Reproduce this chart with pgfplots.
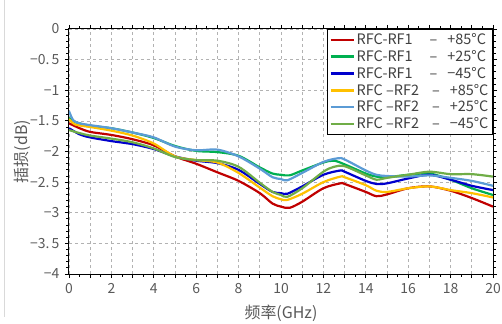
\documentclass[border=0pt]{standalone}
\usepackage{pgfplots}
\pgfplotsset{compat=1.18}
\usepackage{fontspec}
\setmainfont{Noto Sans CJK SC}
\definecolor{cred}{HTML}{C00000}
\definecolor{cgreen}{HTML}{00B050}
\definecolor{cblue}{HTML}{0000CC}
\definecolor{cyellow}{HTML}{FFC000}
\definecolor{clblue}{HTML}{5B9BD5}
\definecolor{colive}{HTML}{70AD47}
\definecolor{tgray}{HTML}{595959}
\definecolor{lgray}{HTML}{404040}
\begin{document}
\begin{tikzpicture}
\begin{axis}[
  at={(0,0)}, anchor=south west,
  width=424bp, height=245bp, scale only axis,
  xmin=0, xmax=20, ymin=-4, ymax=0,
  xtick={0,2,...,20}, xticklabels={0,2,4,6,8,10,12,14,16,18,20},
  extra x ticks={1,3,...,19}, extra x tick labels={},
  extra x tick style={grid=major},
  minor x tick num=3,
  ytick={0,-0.5,...,-4},
  yticklabels={0,−0.\,5,−1,−1.\,5,−2,−2.\,5,−3,−3.\,5,−4},
  minor y tick num=4,
  grid=major,
  major grid style={dashed, color=black!30, line width=0.7bp},
  axis line style={black, line width=1bp},
  tick style={black, line width=0.8bp},
  tick align=outside,
  major tick length=4bp, minor tick length=2.5bp,
  xticklabel style={font=\fontsize{14}{15}\selectfont, text=tgray, yshift=-2bp},
  yticklabel style={font=\fontsize{14}{15}\selectfont, text=tgray, xshift=-2bp},
  xlabel={频率(GHz)}, ylabel={插损(dB)},
  every axis x label/.style={at={(axis description cs:0.5,-0.162)}, anchor=center, font=\fontsize{16}{18}\selectfont, text=tgray},
  every axis y label/.style={at={(axis description cs:-0.111,0.5)}, anchor=center, rotate=90, font=\fontsize{16}{18}\selectfont, text=tgray},
  legend style={at={(1,1)}, anchor=north east, draw=black, line width=1.2bp,
    font=\fontsize{14.5}{15}\selectfont, text=lgray, inner sep=2bp, row sep=0.3bp, fill=white},
  legend cell align=left,
  legend image code/.code={\draw[#1, line width=2.4bp] (0bp,0bp) -- (23bp,0bp);},
  every axis plot/.append style={line width=2.2bp, smooth, tension=0.5},
]
\addplot[color=cred] coordinates {(0,-1.54) (0.5,-1.62) (1,-1.68) (2,-1.73) (3,-1.80) (4,-1.90) (5,-2.08) (6,-2.20) (7,-2.34) (8,-2.48) (9,-2.68) (9.6,-2.85) (10,-2.90) (10.4,-2.92) (11,-2.82) (12,-2.60) (12.8,-2.52) (13,-2.53) (14,-2.66) (14.5,-2.73) (15,-2.70) (16,-2.60) (17,-2.57) (18,-2.64) (19,-2.76) (20,-2.90)};
\addlegendentry{RFC-RF1\hspace{17bp}–\hspace{10bp}+85°C}
\addplot[color=cgreen] coordinates {(0,-1.45) (0.3,-1.52) (1,-1.58) (2,-1.62) (3,-1.69) (4,-1.78) (5,-1.91) (6,-1.99) (7,-2.01) (8,-2.07) (9,-2.26) (9.6,-2.36) (10,-2.38) (10.4,-2.39) (11,-2.31) (12,-2.18) (12.5,-2.15) (13,-2.21) (14,-2.36) (14.5,-2.41) (15,-2.42) (16,-2.38) (17,-2.36) (18,-2.46) (19,-2.60) (20,-2.71)};
\addlegendentry{RFC-RF1\hspace{17bp}–\hspace{10bp}+25°C}
\addplot[color=cblue] coordinates {(0,-1.62) (0.5,-1.72) (1,-1.77) (2,-1.83) (3,-1.88) (4,-1.96) (5,-2.08) (6,-2.15) (7,-2.19) (8,-2.30) (9,-2.53) (9.6,-2.66) (10,-2.68) (10.3,-2.69) (11,-2.57) (12,-2.38) (12.8,-2.31) (13,-2.33) (14,-2.48) (14.5,-2.53) (15,-2.52) (16,-2.44) (17,-2.38) (18,-2.46) (19,-2.56) (20,-2.63)};
\addlegendentry{RFC-RF1\hspace{17bp}–\hspace{10bp}−45°C}
\addplot[color=cyellow] coordinates {(0,-1.47) (0.3,-1.56) (1,-1.60) (2,-1.66) (3,-1.74) (4,-1.87) (5,-2.08) (6,-2.14) (7,-2.18) (8,-2.35) (9,-2.59) (9.6,-2.73) (10,-2.78) (10.3,-2.79) (11,-2.69) (12,-2.50) (12.8,-2.41) (13,-2.42) (14,-2.55) (14.5,-2.64) (15,-2.66) (16,-2.60) (17,-2.57) (18,-2.63) (19,-2.68) (20,-2.75)};
\addlegendentry{RFC –RF2\hspace{13bp}–\hspace{10bp}+85°C}
\addplot[color=clblue] coordinates {(0,-1.34) (0.2,-1.49) (0.5,-1.54) (1,-1.57) (2,-1.62) (3,-1.69) (4,-1.77) (5,-1.92) (6,-1.98) (7,-1.97) (8,-2.08) (9,-2.28) (9.6,-2.42) (10,-2.45) (10.3,-2.47) (11,-2.35) (12,-2.17) (12.7,-2.11) (13,-2.13) (14,-2.31) (14.5,-2.38) (15,-2.40) (16,-2.41) (17,-2.39) (18,-2.43) (19,-2.48) (20,-2.56)};
\addlegendentry{RFC –RF2\hspace{13bp}–\hspace{10bp}+25°C}
\addplot[color=colive] coordinates {(0,-1.65) (0.5,-1.70) (1,-1.74) (2,-1.79) (3,-1.85) (4,-1.95) (5,-2.09) (6,-2.14) (7,-2.15) (8,-2.25) (9,-2.51) (9.6,-2.66) (10,-2.71) (10.3,-2.74) (11,-2.60) (12,-2.33) (12.5,-2.25) (13,-2.24) (14,-2.39) (14.5,-2.46) (15,-2.43) (16,-2.38) (17,-2.33) (18,-2.37) (19,-2.37) (20,-2.41)};
\addlegendentry{RFC –RF2\hspace{13bp}–\hspace{10bp}−45°C}
\end{axis}
\draw[black!15, line width=1bp] (-64bp,274bp) -- (-64bp,-43bp);
\pgfresetboundingbox
\path (-69bp,-50bp) rectangle (433bp,274bp);
\end{tikzpicture}
\end{document}
